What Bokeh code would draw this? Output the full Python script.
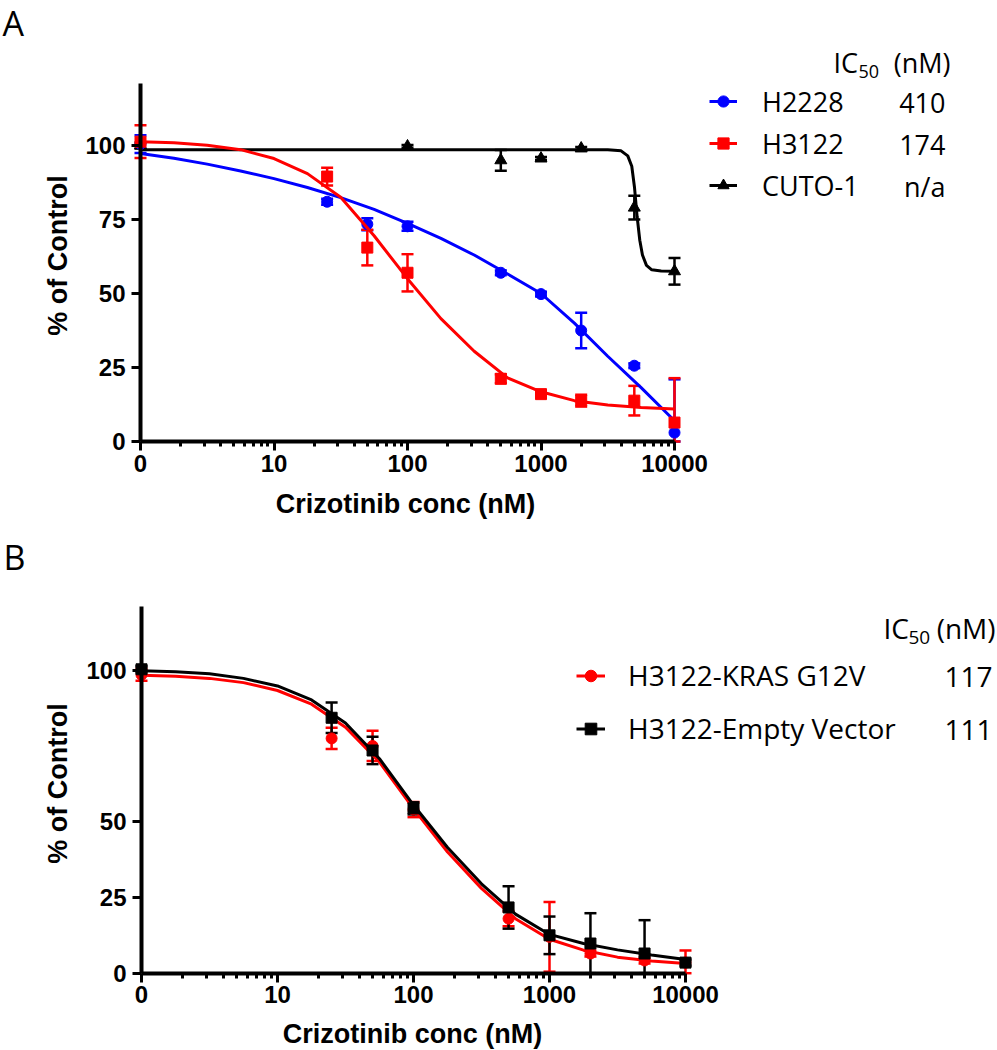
import math
from bokeh.plotting import figure
from bokeh.models import (ColumnDataSource, Whisker, TeeHead, FixedTicker, Label,
                          Legend, LegendItem)
from bokeh.layouts import column
from bokeh.embed import file_html
from bokeh.resources import INLINE

# ---------------- DATA : panel A ----------------
# concentrations in nM; the untreated control (0 nM) is plotted at the "0" position (1 on the log axis)
conc_A = [1, 25, 50, 100, 500, 1000, 2000, 5000, 10000]
h2228_mean = [100.5, 81, 73.4, 72.7, 57, 49.8, 37.5, 25.6, 3]
h2228_sd = [3, 1, 2, 1.5, 0.8, 0.8, 6, 0.8, 18]
h3122_mean = [101.3, 89.5, 65.5, 57, 21.2, 16, 13.8, 13.8, 6.4]
h3122_sd = [5.5, 3, 6, 6.3, 1.5, 1, 2, 5, 15]
conc_cuto = [1, 100, 500, 1000, 2000, 5000, 10000]
cuto_mean = [100, 99.7, 95, 95.6, 99, 79, 57.5]
cuto_sd = [1, 0.5, 3.5, 0.5, 0.5, 4, 4.5]

fit_conc = [1, 1.78, 3.16, 5.62, 10, 17.8, 31.6, 56.2, 100, 178, 316, 562,
            1000, 1778, 3162, 5623, 10000]
h2228_fit = [97.3, 95.7, 93.7, 91.4, 88.8, 85.8, 82.4, 78.4, 73.7, 68.6, 63.0, 56.6,
             50.0, 40.0, 28.8, 18.2, 7.0]
h3122_fit = [101.3, 100.9, 100.1, 98.6, 95.6, 90.5, 82.5, 69.5, 55.0, 41.5, 30.5, 21.5,
             16.8, 13.8, 12.3, 11.5, 11.0]
cuto_fit_conc = [1, 3162, 3981, 4467, 4786, 5012, 5248, 5495, 5754, 6166, 6761, 7943, 10000]
cuto_fit = [98.6, 98.6, 98.2, 96.5, 93, 86, 76, 68, 63, 59.5, 58, 57.6, 57.5]

names_A = ["H2228", "H3122", "CUTO-1"]
ic50_A = ["410", "174", "n/a"]

# ---------------- DATA : panel B ----------------
conc_B = [1, 25, 50, 100, 500, 1000, 2000, 5000, 10000]
kras_mean = [98.5, 77.5, 75, 54, 18, 12, 6.5, 4.2, 3.5]
kras_sd = [2, 3.5, 5, 2.5, 2.5, 11.5, 1, 1, 4]
ev_mean = [100.3, 84.3, 73.5, 54.4, 21.7, 12.5, 9.8, 6.5, 3.5]
ev_sd = [1, 5, 4.5, 2, 7, 6.2, 10, 11, 1]
kras_fit = [98.3, 98.0, 97.3, 95.9, 93.3, 88.8, 81.2, 69.7, 54.3, 40.0, 28.0, 18.0,
            11.2, 7.6, 5.3, 4.0, 3.2]
ev_fit = [99.8, 99.5, 98.8, 97.3, 94.8, 90.2, 82.6, 70.8, 55.5, 41.5, 29.5, 19.5,
          12.8, 9.8, 7.7, 6.0, 4.5]

names_B = ["H3122-KRAS G12V", "H3122-Empty Vector"]
ic50_B = ["117", "111"]

x_ticks = [1, 10, 100, 1000, 10000]
x_tick_labels = ["0", "10", "100", "1000", "10000"]
y_ticks_A = [0, 25, 50, 75, 100]
y_ticks_B = [0, 25, 50, 100]
y_max = 121

BLUE, RED, BLACK = "#0000FF", "#FF0000", "#000000"
TICK_FONT = "Liberation Sans"
LEG_FONT = "Open Sans"
W = 997


def make_fig(h, axis_x, dec_px, y0_px, px_unit, ticks_y):
    """Frame covers the whole figure; axes are drawn at fixed data locations."""
    p = figure(width=W, height=h, x_axis_type="log",
               x_range=(10 ** (-axis_x / dec_px), 10 ** ((W - axis_x) / dec_px)),
               y_range=(-(h - y0_px) / px_unit, y0_px / px_unit),
               output_backend="svg", toolbar_location=None,
               min_border_left=0, min_border_right=0,
               min_border_top=0, min_border_bottom=0)
    p.title.visible = False
    p.outline_line_color = None
    p.xgrid.visible = False
    p.ygrid.visible = False
    minor = [m * 10 ** d for d in range(4) for m in range(2, 10)]
    p.xaxis.ticker = FixedTicker(ticks=x_ticks, minor_ticks=minor)
    p.xaxis.major_label_overrides = dict(zip(x_ticks, x_tick_labels))
    p.xaxis.bounds = (1, 10000)
    p.xaxis.fixed_location = 0
    p.yaxis.ticker = FixedTicker(ticks=ticks_y)
    p.yaxis.bounds = (0, y_max)
    p.yaxis.fixed_location = 1
    for ax in (p.xaxis[0], p.yaxis[0]):
        ax.axis_line_width = 4
        ax.axis_line_color = "black"
        ax.major_tick_line_width = 3
        ax.major_tick_out = 9
        ax.major_tick_in = 0
        ax.major_label_text_font = TICK_FONT
        ax.major_label_text_font_style = "bold"
        ax.major_label_text_font_size = "24px"
        ax.major_label_text_color = "black"
    p.xaxis.minor_tick_line_width = 3
    p.xaxis.minor_tick_out = 5
    p.xaxis.minor_tick_in = 0
    p.yaxis.minor_tick_line_color = None
    p.xaxis.major_label_standoff = 4
    p.yaxis.major_label_standoff = 6
    return p


def add_series(p, x, mean, sd, fx, fy, color, marker, size):
    src = ColumnDataSource(dict(x=x, y=mean,
                                upper=[m + s for m, s in zip(mean, sd)],
                                lower=[max(m - s, 0) for m, s in zip(mean, sd)]))
    p.add_layout(Whisker(source=src, base="x", upper="upper", lower="lower",
                         dimension="height", line_color=color, line_width=2.5,
                         upper_head=TeeHead(size=12, line_color=color, line_width=2.5),
                         lower_head=TeeHead(size=12, line_color=color, line_width=2.5)))
    lr = p.line(fx, fy, line_color=color, line_width=3)
    sr = p.scatter("x", "y", source=src, marker=marker, size=size,
                   fill_color=color, line_color=color)
    return lr, sr


def label(p, h, fx, fy, text, size, font=TICK_FONT, style="normal",
          align="left", angle=0.0):
    # fx, fy: pixel position (text middle) inside the figure, from its top-left corner
    p.add_layout(Label(x=fx, y=h - fy, x_units="screen", y_units="screen",
                       text=text, text_font=font, text_font_size=size,
                       text_font_style=style, text_align=align,
                       text_baseline="middle", angle=angle, text_color="black"))


def make_legend(items, x_left, bottom_from_fig_bottom, font_size, glyph_w, row_h, standoff):
    return Legend(items=items, location=(x_left, bottom_from_fig_bottom),
                  orientation="vertical", label_text_font=LEG_FONT,
                  label_text_font_size=font_size, label_text_color="black",
                  glyph_width=glyph_w, glyph_height=row_h, label_height=row_h,
                  label_standoff=standoff, spacing=0, padding=0, margin=0,
                  border_line_color=None, background_fill_alpha=0)


# ---------------- Panel A ----------------
HA = 525
pA = make_fig(HA, 140, 133.5, 441, 2.96, y_ticks_A)
rc = add_series(pA, conc_cuto, cuto_mean, cuto_sd, cuto_fit_conc, cuto_fit, BLACK, "triangle", 12)
rb = add_series(pA, conc_A, h2228_mean, h2228_sd, fit_conc, h2228_fit, BLUE, "circle", 11)
rr = add_series(pA, conc_A, h3122_mean, h3122_sd, fit_conc, h3122_fit, RED, "square", 11)

pA.add_layout(make_legend([LegendItem(label=names_A[0], renderers=list(rb)),
                           LegendItem(label=names_A[1], renderers=list(rr)),
                           LegendItem(label=names_A[2], renderers=list(rc))],
                          709, HA - 206, "27px", 28, 42, 25))

label(pA, HA, 2, 22, "A", "34px", font=LEG_FONT)
label(pA, HA, 833, 62, "IC", "27px", font=LEG_FONT)
label(pA, HA, 858, 71, "50", "18px", font=LEG_FONT)
label(pA, HA, 950, 62, "(nM)", "27px", font=LEG_FONT, align="right")
for v, yc in zip(ic50_A, [102, 144, 186]):
    label(pA, HA, 945, yc, v, "27px", font=LEG_FONT, align="right")
label(pA, HA, 57, 255, "% of Control", "27px", style="bold", align="center",
      angle=math.pi / 2)
label(pA, HA, 405, 503, "Crizotinib conc (nM)", "27px", style="bold", align="center")

# ---------------- Panel B ----------------
HB = 525
pB = make_fig(HB, 141, 136.0, 447.7, 3.03, y_ticks_B)
rk = add_series(pB, conc_B, kras_mean, kras_sd, fit_conc, kras_fit, RED, "circle", 11)
re_ = add_series(pB, conc_B, ev_mean, ev_sd, fit_conc, ev_fit, BLACK, "square", 11)

pB.add_layout(make_legend([LegendItem(label=names_B[0], renderers=list(rk)),
                           LegendItem(label=names_B[1], renderers=list(re_))],
                          576, HB - 229.5, "28px", 29, 53, 23))

label(pB, HB, 3, 31, "B", "34px", font=LEG_FONT)
label(pB, HB, 883, 102, "IC", "28px", font=LEG_FONT)
label(pB, HB, 908, 112, "50", "19px", font=LEG_FONT)
label(pB, HB, 995, 102, "(nM)", "28px", font=LEG_FONT, align="right")
for v, yc in zip(ic50_B, [151, 204]):
    label(pB, HB, 992, yc, v, "28px", font=LEG_FONT, align="right")
label(pB, HB, 57, 258, "% of Control", "27px", style="bold", align="center",
      angle=math.pi / 2)
label(pB, HB, 412, 508, "Crizotinib conc (nM)", "27px", style="bold", align="center")

layout = column(pA, pB)
open("out.html", "w").write(file_html(layout, INLINE))
